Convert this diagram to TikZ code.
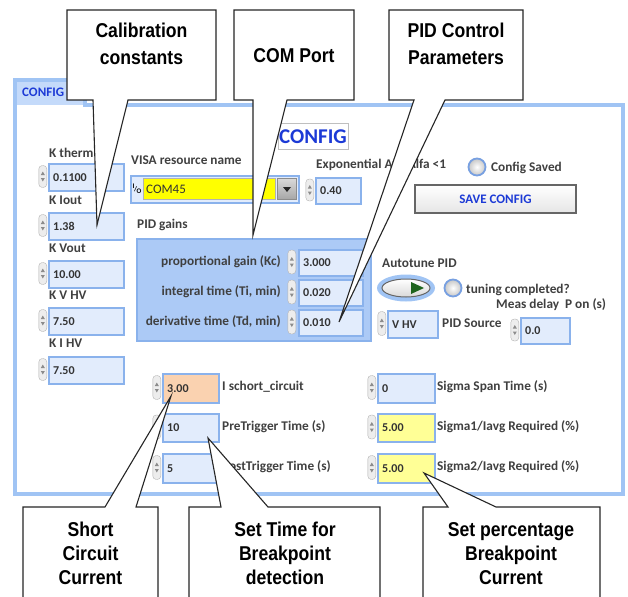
\documentclass[tikz,border=0pt]{standalone}
\usepackage{fontspec}
\setmainfont{Carlito}
\newfontfamily\callfont[FakeStretch=0.88]{Liberation Sans}
\usetikzlibrary{shapes.geometric}
\definecolor{panelblue}{RGB}{160,196,244}
\definecolor{tabfill}{RGB}{196,218,250}
\definecolor{fieldfill}{RGB}{226,236,252}
\definecolor{fieldedge}{RGB}{138,178,236}
\definecolor{clusterfill}{RGB}{172,202,246}
\definecolor{uiblue}{RGB}{28,58,214}
\definecolor{visayellow}{RGB}{255,255,0}
\definecolor{paleyellow}{RGB}{255,255,150}
\definecolor{orangefill}{RGB}{250,210,176}
\definecolor{ledring}{RGB}{120,160,225}
\definecolor{btngreen}{RGB}{30,100,30}
\tikzset{
 uitext/.style={font=\bfseries\fontsize{13.3}{15}\selectfont, inner sep=0pt, text=black!75},
 valtext/.style={font=\bfseries\fontsize{12}{14}\selectfont, inner sep=0pt, anchor=west, text=black!80},
 field/.style={draw=fieldedge, line width=2.2pt, fill=fieldfill, inner sep=0pt, anchor=north west},
 spinbox/.style={draw=black!30, fill=black!7, rounded corners=3.5pt, minimum width=8pt, inner sep=0pt, anchor=east},
 callbox/.style={draw=black!85, line width=1.1pt, fill=white, line join=miter},
 calltext/.style={font=\callfont\bfseries\fontsize{20}{27}\selectfont, align=center, inner sep=0pt},
 calltextb/.style={font=\callfont\bfseries\fontsize{20}{24}\selectfont, align=center, inner sep=0pt},
 led/.style={circle, minimum size=17pt, draw=ledring, line width=1.8pt, inner color=white, outer color=black!22, inner sep=0pt},
}
\newcommand\uifield[7]{%
 \node[field, fill=#6, minimum width=#4pt, minimum height=#5pt] (#1) at (#2,#3) {};
 \node[valtext] (#1t) at ([xshift=5pt]#1.west) {#7};}
\newcommand\spin[4]{%
 \node[spinbox, minimum height=#4pt] (#1) at (#2,#3) {};
 \fill[black!45] ([xshift=-2pt,yshift=1.5pt]#1.center) -- ([xshift=2pt,yshift=1.5pt]#1.center) -- ([yshift=5pt]#1.center) -- cycle;
 \fill[black!45] ([xshift=-2pt,yshift=-1.5pt]#1.center) -- ([xshift=2pt,yshift=-1.5pt]#1.center) -- ([yshift=-5pt]#1.center) -- cycle;}
\begin{document}
\begin{tikzpicture}[x=1pt,y=-1pt]
\useasboundingbox[fill=white] (0,0) rectangle (628,596);
% panel and tab
\fill[tabfill] (15,80) rectangle (85,105);
\fill[white] (15,105) rectangle (623,494);
\draw[panelblue, line width=4pt, line join=miter] (15,80) -- (85,80) -- (85,105) -- (623,105) -- (623,494) -- (15,494) -- cycle;
\node[anchor=west, inner sep=0pt, font=\bfseries\fontsize{13}{15}\selectfont, text=uiblue] (tab) at (22,92) {CONFIG};
% left column
\node[uitext, anchor=west] (lk1) at (49,153) {K therm};
\node[uitext, anchor=west] (lk2) at (49,200) {K Iout};
\node[uitext, anchor=west] (lk3) at (49,248) {K Vout};
\node[uitext, anchor=west] (lk4) at (49,295) {K V HV};
\node[uitext, anchor=west] (lk5) at (49,343) {K I HV};
\uifield{k1}{48}{163}{75}{27}{fieldfill}{0.1100}
\uifield{k2}{48}{212}{75}{27}{fieldfill}{1.38}
\uifield{k3}{48}{260}{75}{27}{fieldfill}{10.00}
\uifield{k4}{48}{307}{75}{27}{fieldfill}{7.50}
\uifield{k5}{48}{356}{75}{27}{fieldfill}{7.50}
\spin{s1}{47}{176.5}{22}
\spin{s2}{47}{225.5}{22}
\spin{s3}{47}{273.5}{22}
\spin{s4}{47}{320.5}{22}
\spin{s5}{47}{369.5}{22}
% heading
\node[draw=black!25, line width=1pt, fill=white, minimum width=70pt, minimum height=26pt, inner sep=0pt, font=\bfseries\fontsize{21}{24}\selectfont, text=uiblue] (head) at (313,137) {CONFIG};
% VISA
\node[uitext, anchor=west] (lvisa) at (131,160) {VISA resource name};
\node[field, minimum width=168pt, minimum height=27pt] (visaframe) at (130,175) {};
\node[draw=black!30, fill=visayellow, minimum width=132pt, minimum height=21pt, inner sep=0pt, anchor=north west] (visa) at (143,178) {};
\node[valtext, font=\fontsize{13}{15}\selectfont] (visat) at (146,189) {COM45};
\node[inner sep=0pt, font=\bfseries\fontsize{7}{7}\selectfont] (io) at (137,189) {\raisebox{2.5pt}{I}\kern-0.5pt/\kern-0.5pt\raisebox{-2.5pt}{O}};
\node[draw=black!45, top color=black!15, bottom color=black!35, minimum width=19pt, minimum height=21pt, inner sep=0pt] (dd) at (287,189) {};
\fill[black!85] ([xshift=-4pt,yshift=2pt]dd.center) -- ([xshift=4pt,yshift=2pt]dd.center) -- ([yshift=-3pt]dd.center) -- cycle;
% alpha
\node[uitext, anchor=west] (lalpha) at (316,165) {Exponential Avg Alfa <1};
\uifield{alpha}{315}{177}{45}{26}{fieldfill}{0.40}
\spin{salpha}{314}{190}{22}
% config saved
\node[led] (led1) at (477,167) {};
\node[uitext, anchor=west] (lsaved) at (491,168) {Config Saved};
\node[draw=black!60, line width=1.5pt, top color=white, bottom color=black!10, minimum width=161pt, minimum height=28pt, inner sep=0pt, font=\bfseries\fontsize{13}{15}\selectfont, text=uiblue] (save) at (495.5,199) {SAVE CONFIG};
% PID gains
\node[uitext, anchor=west] (lpid) at (137,225) {PID gains};
\node[draw=fieldedge, line width=1.5pt, fill=clusterfill, minimum width=234pt, minimum height=102pt, inner sep=0pt, anchor=north west] (pid) at (136,238) {};
\node[uitext, anchor=east] (lkc) at (281,262) {proportional gain (Kc)};
\node[uitext, anchor=east] (lti) at (281,292) {integral time (Ti, min)};
\node[uitext, anchor=east] (ltd) at (281,322) {derivative time (Td, min)};
\uifield{kc}{298}{249}{64}{26}{fieldfill}{3.000}
\uifield{ti}{298}{279}{64}{26}{fieldfill}{0.020}
\uifield{td}{298}{309}{64}{26}{fieldfill}{0.010}
\spin{skc}{296}{262}{24}
\spin{sti}{296}{292}{24}
\spin{std}{296}{322}{24}
% autotune
\node[uitext, anchor=west] (lauto) at (382,263) {Autotune PID};
\node[ellipse, fill=panelblue, minimum width=58pt, minimum height=27pt, inner sep=0pt] (auto) at (406,288) {};
\node[ellipse, draw=black!60, line width=1pt, top color=white, bottom color=black!15, minimum width=48pt, minimum height=18pt, inner sep=0pt] (autoin) at (406,288) {};
\fill[btngreen] ([xshift=5pt,yshift=6pt]autoin.center) -- ([xshift=5pt,yshift=-6pt]autoin.center) -- ([xshift=18pt]autoin.center) -- cycle;
\node[led] (led2) at (453,288) {};
\node[uitext, anchor=west] (ltune) at (466,290) {tuning completed?};
\node[uitext, anchor=west] (lmeas) at (496,305) {Meas delay\ \ P on (s)};
\uifield{src}{387}{310}{50}{27}{fieldfill}{V HV}
\spin{ssrc}{386}{323.5}{24}
\node[uitext, anchor=west] (lsrc) at (442,323) {PID Source};
\uifield{meas}{520}{317}{49}{26}{fieldfill}{0.0}
\spin{smeas}{519}{330}{22}
% bottom fields
\uifield{isc}{162}{373}{56}{29}{orangefill}{3.00}
\uifield{pre}{162}{413}{56}{28}{fieldfill}{10}
\uifield{post}{162}{453}{56}{29}{fieldfill}{5}
\spin{sisc}{161}{387.5}{24}
\spin{spre}{161}{427}{24}
\spin{spost}{161}{467.5}{24}
\node[uitext, anchor=west] (lisc) at (222,387) {I schort\_circuit};
\node[uitext, anchor=west] (lpre) at (222,427) {PreTrigger Time (s)};
\node[uitext, anchor=west] (lpost) at (222,467) {PostTrigger Time (s)};
\uifield{span}{377}{373}{57}{29}{fieldfill}{0}
\uifield{sg1}{377}{413}{57}{28}{paleyellow}{5.00}
\uifield{sg2}{377}{453}{57}{29}{paleyellow}{5.00}
\spin{sspan}{376}{387.5}{24}
\spin{ssg1}{376}{427}{24}
\spin{ssg2}{376}{467.5}{24}
\node[uitext, anchor=west] (lspan) at (437,387) {Sigma Span Time (s)};
\node[uitext, anchor=west] (lsg1) at (437,427) {Sigma1/Iavg Required (\%)};
\node[uitext, anchor=west] (lsg2) at (437,467) {Sigma2/Iavg Required (\%)};
% callouts
\coordinate (tipA) at (97,225);
\coordinate (tipB) at (253,235);
\coordinate (tipC) at (339,322);
\coordinate (tipD) at (171,396);
\coordinate (tipE) at (208,438);
\coordinate (tipF) at (424,473);
\draw[callbox] (67,10) -- (216,10) -- (216,100) -- (128,100) -- (tipA) -- (93,100) -- (67,100) -- cycle;
\node[calltext] (ca) at (141.5,43.5) {Calibration\\constants};
\draw[callbox] (234,10) -- (354,10) -- (354,100) -- (287,100) -- (tipB) -- (253,100) -- (234,100) -- cycle;
\node[calltext] (cb) at (294,56) {COM Port};
\draw[callbox] (389,10) -- (523,10) -- (523,100) -- (445,100) -- (tipC) -- (414,100) -- (389,100) -- cycle;
\node[calltext] (cc) at (456,43.5) {PID Control\\Parameters};
\draw[callbox] (23,600) -- (23,507) -- (105,507) -- (tipD) -- (136,507) -- (158,507) -- (158,600);
\node[calltextb] (cd) at (90.5,553.5) {Short\\Circuit\\Current};
\draw[callbox] (189,600) -- (189,507) -- (221,507) -- (tipE) -- (268,507) -- (380,507) -- (380,600);
\node[calltextb] (ce) at (285,553.5) {Set Time for\\Breakpoint\\detection};
\draw[callbox] (423,600) -- (423,507) -- (448,507) -- (tipF) -- (496,507) -- (600,507) -- (600,600);
\node[calltextb] (cf) at (511,553.5) {Set percentage\\Breakpoint\\Current};
\end{tikzpicture}
\end{document}
